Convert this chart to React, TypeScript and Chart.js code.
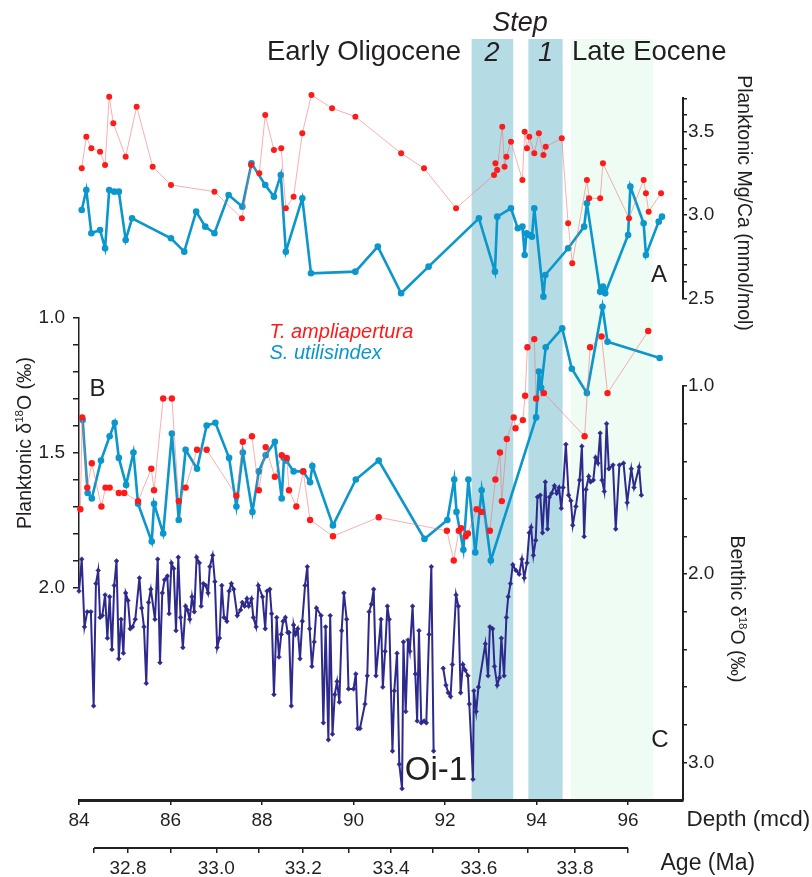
import React, { useEffect, useRef } from 'react';
import { Chart, registerables } from 'chart.js';

Chart.register(...registerables);

const FONT = "'Liberation Sans', Arial, Helvetica, sans-serif";
const INK = '#231f20';
const BLUE = '#0b96cc';
const RED = '#ff1a1a';
const PINK = 'rgba(244, 110, 110, 0.55)';
const NAVY = '#2e2a8c';
const STEP_FILL = '#b5dce5';
const EOCENE_FILL = '#eefcf3';

// ---------- Panel A : planktonic Mg/Ca (mmol/mol) ----------
const mgRedDepth = [84.06, 84.16, 84.27, 84.46, 84.57, 84.66, 84.75, 85.02, 85.26, 85.61, 86.01, 86.96, 87.56, 87.76, 87.94, 88.07, 88.26, 88.42, 88.52, 88.69, 88.88, 89.08, 89.53, 90.04, 91.04, 91.54, 92.24, 93.07, 93.10, 93.14, 93.25, 93.30, 93.34, 93.44, 93.69, 93.74, 93.79, 93.84, 93.95, 94.05, 94.15, 94.20, 94.55, 94.69, 94.78, 95.10, 95.15, 95.39, 95.45, 96.02, 96.34, 96.39, 96.45, 96.72];
const mgRed = [3.28, 3.47, 3.40, 3.38, 3.30, 3.71, 3.55, 3.35, 3.65, 3.29, 3.18, 3.14, 2.98, 3.30, 3.25, 3.60, 3.39, 3.40, 3.04, 3.11, 3.49, 3.72, 3.64, 3.59, 3.37, 3.28, 3.04, 3.24, 3.31, 3.27, 3.53, 3.29, 3.35, 3.44, 3.21, 3.50, 3.40, 3.47, 3.37, 3.49, 3.36, 3.41, 3.46, 2.95, 2.71, 3.21, 3.10, 3.10, 3.31, 2.98, 3.21, 3.13, 3.02, 3.13];

const mgBlueDepth = [84.06, 84.16, 84.27, 84.46, 84.57, 84.66, 84.77, 84.87, 85.02, 85.16, 86.01, 86.30, 86.56, 86.76, 86.96, 87.27, 87.57, 87.77, 88.07, 88.26, 88.41, 88.52, 88.88, 89.07, 90.04, 90.53, 91.04, 91.64, 92.74, 93.09, 93.14, 93.44, 93.59, 93.69, 93.74, 93.78, 93.84, 93.90, 93.95, 94.15, 94.19, 94.69, 95.04, 95.10, 95.39, 95.45, 95.50, 96.00, 96.05, 96.34, 96.39, 96.67, 96.74];
const mgBlue = [3.03, 3.15, 2.89, 2.91, 2.80, 3.15, 3.14, 3.14, 2.85, 2.98, 2.86, 2.78, 3.02, 2.93, 2.89, 3.12, 3.05, 3.31, 3.18, 3.11, 3.24, 2.78, 3.10, 2.65, 2.66, 2.81, 2.53, 2.69, 2.98, 2.66, 2.99, 3.04, 2.92, 2.93, 2.76, 2.89, 2.88, 2.87, 3.04, 2.51, 2.64, 2.80, 2.93, 3.07, 2.54, 2.57, 2.53, 2.88, 3.17, 2.95, 2.76, 2.96, 2.99];

// ---------- Panel B : planktonic d18O (permil) ----------
const plRedDepth = [84.03, 84.07, 84.18, 84.28, 84.49, 84.58, 84.67, 84.87, 84.99, 85.29, 85.58, 85.64, 85.84, 86.03, 86.18, 86.33, 86.58, 86.79, 87.44, 87.58, 87.78, 87.93, 88.08, 88.28, 88.43, 88.54, 88.59, 88.75, 88.90, 89.05, 89.55, 90.55, 92.04, 92.19, 92.30, 92.35, 92.45, 92.50, 92.69, 92.80, 92.98, 93.10, 93.20, 93.24, 93.35, 93.50, 93.54, 93.70, 93.75, 93.80, 93.95, 93.99, 94.16, 95.05, 95.17, 95.42, 95.55, 96.44];
const plRed = [1.71, 1.37, 1.63, 1.54, 1.70, 1.63, 1.63, 1.65, 1.65, 1.68, 1.56, 1.64, 1.30, 1.30, 1.68, 1.63, 1.49, 1.49, 1.66, 1.46, 1.44, 1.64, 1.48, 1.59, 1.51, 1.52, 1.64, 1.70, 1.57, 1.75, 1.81, 1.74, 1.79, 1.90, 1.79, 1.78, 1.81, 1.80, 1.71, 1.72, 1.79, 1.60, 1.50, 1.68, 1.45, 1.37, 1.41, 1.38, 1.29, 1.11, 1.08, 1.30, 1.28, 1.44, 1.11, 1.07, 1.28, 1.05];

const plBlueDepth = [84.08, 84.19, 84.28, 84.48, 84.67, 84.78, 84.87, 85.03, 85.19, 85.29, 85.59, 85.64, 85.84, 86.03, 86.18, 86.33, 86.58, 86.79, 86.98, 87.28, 87.44, 87.58, 87.79, 87.93, 88.08, 88.28, 88.43, 88.48, 88.53, 88.69, 88.90, 89.05, 89.10, 89.55, 90.05, 90.55, 91.55, 92.05, 92.20, 92.25, 92.40, 92.51, 92.66, 92.80, 93.00, 93.99, 94.05, 94.10, 94.20, 94.56, 94.77, 95.10, 95.44, 95.55, 96.69];
const plBlue = [1.38, 1.65, 1.67, 1.53, 1.44, 1.39, 1.52, 1.62, 1.50, 1.69, 1.83, 1.69, 1.80, 1.43, 1.75, 1.49, 1.56, 1.40, 1.39, 1.52, 1.70, 1.50, 1.72, 1.57, 1.51, 1.46, 1.67, 1.52, 1.53, 1.57, 1.57, 1.61, 1.55, 1.77, 1.60, 1.53, 1.82, 1.75, 1.60, 1.72, 1.86, 1.60, 1.87, 1.64, 1.90, 1.37, 1.20, 1.26, 1.11, 1.04, 1.19, 1.28, 0.96, 1.09, 1.15];

// ---------- Panel C : benthic d18O (permil) ----------
const benthicDepth = [
  84.00, 84.06, 84.12, 84.18, 84.26, 84.32, 84.37, 84.42, 84.46, 84.51,
  84.57, 84.62, 84.67, 84.72, 84.77, 84.82, 84.87, 84.92, 84.97, 85.02,
  85.07, 85.12, 85.17, 85.23, 85.32, 85.37, 85.42, 85.47, 85.52, 85.57,
  85.66, 85.72, 85.77, 85.82, 85.87, 85.93, 85.97, 86.02, 86.07, 86.12,
  86.17, 86.22, 86.27, 86.33, 86.37, 86.42, 86.47, 86.52, 86.57, 86.63,
  86.67, 86.72, 86.77, 86.82, 86.86, 86.92, 86.97, 87.02, 87.07, 87.12,
  87.17, 87.23, 87.28, 87.33, 87.38, 87.46, 87.53, 87.57, 87.62, 87.67,
  87.71, 87.77, 87.81, 87.87, 87.92, 88.01, 88.07, 88.11, 88.17, 88.21,
  88.26, 88.32, 88.37, 88.42, 88.46, 88.51, 88.56, 88.59, 88.64, 88.69,
  88.73, 88.78, 88.83, 88.88, 88.94, 88.99, 89.04, 89.09, 89.14, 89.19,
  89.29, 89.34, 89.39, 89.45, 89.49, 89.54, 89.59, 89.64, 89.69, 89.74,
  89.79, 89.85, 89.89, 90.00, 90.05, 90.09, 90.14, 90.25, 90.30, 90.34,
  90.39, 90.44, 90.49, 90.60, 90.64, 90.69, 90.74, 90.78, 90.85,
  90.89, 90.95, 91.00, 91.06, 91.09, 91.14, 91.19, 91.23, 91.29, 91.35,
  91.39, 91.43, 91.48, 91.54, 91.59, 91.65, 91.70, 91.75, 91.85,
  91.96, 92.02, 92.07, 92.12, 92.16, 92.24, 92.29, 92.34, 92.39, 92.44,
  92.50, 92.53, 92.61, 92.63, 92.68, 92.73, 92.88, 92.94, 92.98, 93.04,
  93.08, 93.14, 93.19, 93.23, 93.29, 93.34, 93.38, 93.43, 93.48, 93.55,
  93.62, 93.68, 93.73, 93.79, 93.84, 93.88, 93.93, 93.98, 94.02, 94.08,
  94.13, 94.19, 94.24, 94.28, 94.33, 94.39, 94.44, 94.49, 94.54, 94.58,
  94.64, 94.70, 94.75, 94.79, 94.86, 94.94, 94.99, 95.04, 95.08, 95.14,
  95.18, 95.24, 95.29, 95.34, 95.39, 95.43, 95.48, 95.53, 95.58, 95.67,
  95.73, 95.81, 95.90, 95.98, 96.07, 96.13, 96.24, 96.29,
];
const benthic = [
  2.09, 1.92, 2.28, 2.20, 2.20, 2.70, 2.05, 1.98, 2.23, 2.22,
  2.11, 2.34, 2.12, 2.40, 2.06, 1.93, 2.45, 2.24, 2.42, 2.10,
  2.14, 2.29, 2.28, 2.24, 2.02, 2.18, 2.28, 2.58, 2.15, 2.08,
  2.24, 1.92, 2.47, 2.10, 2.03, 2.01, 2.21, 1.94, 1.97, 2.30,
  1.91, 2.23, 2.39, 2.17, 2.19, 2.24, 2.12, 2.20, 1.91, 1.94,
  2.17, 2.05, 2.06, 2.10, 1.96, 1.90, 2.04, 2.39, 2.34, 2.06,
  2.23, 2.25, 2.09, 2.05, 2.08, 2.22, 2.19, 2.15, 2.17, 2.13,
  2.17, 2.13, 2.23, 2.28, 2.06, 2.12, 2.29, 2.09, 2.08, 2.21,
  2.64, 2.23, 2.44, 2.32, 2.25, 2.23, 2.31, 2.31, 2.70, 2.27,
  2.32, 2.29, 2.45, 2.25, 2.06, 1.96, 2.29, 2.49, 2.36, 2.18,
  2.22, 2.79, 2.28, 2.88, 2.22, 2.85, 2.64, 2.57, 2.68, 2.30,
  2.10, 2.24, 2.61, 2.61, 2.53, 2.82, 2.82, 2.69, 2.54, 2.20,
  2.16, 2.08, 2.54, 2.24, 2.60, 2.41, 2.17, 2.24, 2.94,
  2.62, 2.42, 3.01, 3.14, 2.36, 2.73, 2.35, 2.41, 2.17, 2.53,
  2.78, 2.30, 2.79, 2.78, 2.79, 2.32, 1.96, 2.94, null,
  2.50, 2.59, 2.63, 2.65, 2.48, 2.11, 2.17, 2.63, 2.48, 2.51,
  2.54, 2.69, 3.09, 2.62, 2.73, 2.60, 2.37, 2.54, 2.28, 2.29,
  2.49, 2.59, 2.55, 2.34, 2.54, 2.23, 2.12, 2.05, 1.95, 1.98,
  2.00, 1.92, 2.02, 1.94, 1.78, 1.75, 1.90, 1.82, 1.59, 1.58,
  1.78, 1.51, 1.76, 1.59, 1.57, 1.53, 1.57, 1.54, 1.65, 1.54,
  1.31, 1.58, 1.61, 1.74, 1.64, 1.50, 1.32, 1.80, 1.55, 1.48,
  1.51, 1.50, 1.38, 1.41, 1.25, 1.50, 1.56, 1.20, 1.44, 1.42,
  1.76, 1.42, 1.41, 1.62, 1.44, 1.54, 1.43, 1.58,
];

// ---------- shaded intervals (depth, mcd) ----------
const stepIntervals = [
  [92.58, 93.49],
  [93.82, 94.57],
];
const lateEoceneInterval = [94.75, 96.55];

// ---------- ticks ----------
const depthTicks = [84, 86, 88, 90, 92, 94, 96];
const ageTicks = [32.7, 32.8, 32.9, 33.0, 33.1, 33.2, 33.3, 33.4, 33.5, 33.6, 33.7, 33.8, 33.9];
const ageTickDepth = [84.33, 85.07, 86.01, 87.0, 87.92, 88.9, 89.9, 90.82, 91.74, 92.74, 93.81, 94.84, 96.0];
const ageLabels = ['', '32.8', '', '33.0', '', '33.2', '', '33.4', '', '33.6', '', '33.8', ''];
const mgTicks = [2.5, 2.6, 2.7, 2.8, 2.9, 3.0, 3.1, 3.2, 3.3, 3.4, 3.5, 3.6, 3.7];
const mgLabels = ['2.5', '', '', '', '', '3.0', '', '', '', '', '3.5', '', ''];
const plTicks = [1.0, 1.1, 1.2, 1.3, 1.4, 1.5, 1.6, 1.7, 1.8, 1.9, 2.0];
const plLabels = ['1.0', '', '', '', '', '1.5', '', '', '', '', '2.0'];
const bnTicks = [1.0, 1.2, 1.4, 1.6, 1.8, 2.0, 2.2, 2.4, 2.6, 2.8, 3.0];
const bnLabels = ['1.0', '', '', '', '', '2.0', '', '', '', '', '3.0'];

// layout sizes (px)
const LEFT_W = 79;
const RIGHT_W = 129;
const DEPTH_H = 48;
const AGE_H = 29;
const TOP_PAD = 39;

const mk = (xs: number[], ys: (number | null)[]) => xs.map((x, i) => ({ x, y: ys[i] }));
const setTicks = (vals: number[]) => (s: any) => {
  s.ticks = vals.map((v) => ({ value: v }));
};
const tickFont = { family: FONT, size: 19 };

function dummyAxis(pos: 'left' | 'right', weight: number, stackWeight: number) {
  return {
    type: 'linear',
    position: pos,
    stack: pos,
    weight,
    stackWeight,
    min: 0,
    max: 1,
    ticks: { display: false },
    grid: { display: false },
    border: { display: false },
    afterFit: (s: any) => {
      s.width = pos === 'left' ? LEFT_W : RIGHT_W;
    },
  };
}

function valueAxis(pos: 'left' | 'right', weight: number, stackWeight: number, min: number, max: number, reverse: boolean, ticks: number[], labels: string[]) {
  const left = pos === 'left';
  return {
    type: 'linear',
    position: pos,
    stack: pos,
    weight,
    stackWeight,
    min,
    max,
    reverse,
    afterBuildTicks: setTicks(ticks),
    ticks: {
      autoSkip: false,
      callback: (_v: any, i: number) => labels[i],
      font: tickFont,
      color: INK,
      padding: left ? 8 : 1,
    },
    grid: { drawOnChartArea: false, drawTicks: true, tickLength: left ? 6 : 4, color: INK, lineWidth: 1.5 },
    border: { display: true, color: INK, width: left ? 1.5 : 2 },
    afterFit: (s: any) => {
      s.width = left ? LEFT_W : RIGHT_W;
    },
  };
}

function drawText(ctx: CanvasRenderingContext2D, s: string, x: number, y: number, font: string, color: string, align: CanvasTextAlign) {
  ctx.font = font;
  ctx.fillStyle = color;
  ctx.textAlign = align;
  ctx.textBaseline = 'middle';
  ctx.fillText(s, x, y);
}

type Part = { t: string; size: number; sup?: boolean };
function drawRich(ctx: CanvasRenderingContext2D, parts: Part[], cx: number, cy: number, rot: number) {
  ctx.save();
  ctx.translate(cx, cy);
  ctx.rotate(rot);
  ctx.fillStyle = INK;
  ctx.textAlign = 'left';
  ctx.textBaseline = 'alphabetic';
  let total = 0;
  parts.forEach((p) => {
    ctx.font = `${p.size}px ${FONT}`;
    total += ctx.measureText(p.t).width;
  });
  let x = -total / 2;
  const base = parts[0].size * 0.36;
  parts.forEach((p) => {
    ctx.font = `${p.size}px ${FONT}`;
    ctx.fillText(p.t, x, p.sup ? base - parts[0].size * 0.42 : base);
    x += ctx.measureText(p.t).width;
  });
  ctx.restore();
}

const decorPlugin = {
  id: 'decor',
  beforeDraw(chart: any) {
    const { ctx, chartArea } = chart;
    const x = chart.scales.x;
    ctx.save();
    const band = (a: number, b: number, c: string) => {
      const x0 = x.getPixelForValue(a);
      const x1 = x.getPixelForValue(b);
      ctx.fillStyle = c;
      ctx.fillRect(x0, chartArea.top, x1 - x0, chartArea.bottom - chartArea.top);
    };
    band(lateEoceneInterval[0], lateEoceneInterval[1], EOCENE_FILL);
    stepIntervals.forEach((iv) => band(iv[0], iv[1], STEP_FILL));
    ctx.restore();
  },
  afterDraw(chart: any) {
    const { ctx } = chart;
    const x2 = chart.scales.x2;
    ctx.save();
    // age axis baseline
    ctx.strokeStyle = INK;
    ctx.lineWidth = 2;
    ctx.beginPath();
    ctx.moveTo(x2.getPixelForValue(ageTickDepth[0]), x2.top);
    ctx.lineTo(x2.getPixelForValue(ageTickDepth[ageTickDepth.length - 1]), x2.top);
    ctx.stroke();

    drawText(ctx, 'Step', 520, 23, `italic 27px ${FONT}`, INK, 'center');
    drawText(ctx, '2', 492, 53, `italic 27px ${FONT}`, INK, 'center');
    drawText(ctx, '1', 545.5, 53, `italic 27px ${FONT}`, INK, 'center');
    drawText(ctx, 'Early Oligocene', 461, 52, `27.5px ${FONT}`, INK, 'right');
    drawText(ctx, 'Late Eocene', 572, 52, `27.5px ${FONT}`, INK, 'left');
    drawText(ctx, 'A', 659, 275.5, `24px ${FONT}`, INK, 'center');
    drawText(ctx, 'B', 97.5, 389, `24px ${FONT}`, INK, 'center');
    drawText(ctx, 'C', 660, 740, `24px ${FONT}`, INK, 'center');
    drawText(ctx, 'Oi-1', 436, 771, `33px ${FONT}`, INK, 'center');
    drawText(ctx, 'T. ampliapertura', 269.5, 332, `italic 20px ${FONT}`, RED, 'left');
    drawText(ctx, 'S. utilisindex', 269.5, 353.5, `italic 20px ${FONT}`, BLUE, 'left');
    drawText(ctx, 'Depth (mcd)', 686.5, 820, `22.5px ${FONT}`, INK, 'left');
    drawText(ctx, 'Age (Ma)', 660.5, 864, `23px ${FONT}`, INK, 'left');

    drawRich(ctx, [{ t: 'Planktonic δ', size: 19.5 }, { t: '18', size: 11.5, sup: true }, { t: 'O (‰)', size: 19.5 }], 24, 443, -Math.PI / 2);
    drawRich(ctx, [{ t: 'Planktonic Mg/Ca (mmol/mol)', size: 19.5 }], 745.5, 203, Math.PI / 2);
    drawRich(ctx, [{ t: 'Benthic δ', size: 19.5 }, { t: '18', size: 11.5, sup: true }, { t: 'O (‰)', size: 19.5 }], 738, 609, Math.PI / 2);
    ctx.restore();
  },
};

export default function App() {
  const ref = useRef<HTMLCanvasElement>(null);

  useEffect(() => {
    if (!ref.current) return;
    const redStyle = {
      showLine: true,
      borderColor: PINK,
      borderWidth: 1,
      pointRadius: 3,
      pointBackgroundColor: RED,
      pointBorderColor: RED,
      pointBorderWidth: 0,
      clip: false,
    };
    const blueStyle = {
      showLine: true,
      borderColor: BLUE,
      borderWidth: 2.6,
      pointRadius: 3.3,
      pointBackgroundColor: BLUE,
      pointBorderColor: BLUE,
      pointBorderWidth: 0,
      clip: false,
    };
    const chart = new Chart(ref.current, {
      type: 'scatter',
      data: {
        datasets: [
          { label: 'T. ampliapertura Mg/Ca', data: mk(mgRedDepth, mgRed), yAxisID: 'yM', ...redStyle },
          { label: 'T. ampliapertura d18O', data: mk(plRedDepth, plRed), yAxisID: 'yP', ...redStyle, pointRadius: 3.2 },
          { label: 'S. utilisindex Mg/Ca', data: mk(mgBlueDepth, mgBlue), yAxisID: 'yM', ...blueStyle },
          { label: 'S. utilisindex d18O', data: mk(plBlueDepth, plBlue), yAxisID: 'yP', ...blueStyle },
          {
            label: 'Benthic d18O',
            data: mk(benthicDepth, benthic),
            yAxisID: 'yB',
            showLine: true,
            spanGaps: false,
            borderColor: NAVY,
            borderWidth: 2,
            pointStyle: 'rectRot',
            pointRadius: 2.4,
            pointBackgroundColor: NAVY,
            pointBorderColor: NAVY,
            pointBorderWidth: 0.5,
            clip: false,
          },
        ] as any,
      },
      options: {
        responsive: false,
        devicePixelRatio: 1,
        animation: false,
        layout: { padding: { top: TOP_PAD, left: 0, right: 0, bottom: 0 } },
        plugins: { legend: { display: false }, tooltip: { enabled: false } },
        scales: {
          x: {
            type: 'linear',
            position: 'bottom',
            weight: 1,
            min: 84,
            max: 97.2,
            afterBuildTicks: setTicks(depthTicks),
            ticks: { autoSkip: false, font: tickFont, color: INK, padding: 4, callback: (v: any) => String(v) },
            grid: { drawOnChartArea: false, drawTicks: true, tickLength: 5, color: INK, lineWidth: 1.5 },
            border: { display: true, color: INK, width: 3 },
            afterFit: (s: any) => {
              s.height = DEPTH_H;
            },
          },
          x2: {
            type: 'linear',
            position: 'bottom',
            weight: 2,
            min: 84,
            max: 97.2,
            afterBuildTicks: setTicks(ageTickDepth),
            ticks: { autoSkip: false, font: tickFont, color: INK, padding: 4, callback: (_v: any, i: number) => ageLabels[i] },
            grid: { drawOnChartArea: false, drawTicks: true, tickLength: 5, color: INK, lineWidth: 1.5 },
            border: { display: false },
            afterFit: (s: any) => {
              s.height = AGE_H;
            },
          },
          yTL: dummyAxis('left', 3, 278.5),
          yP: valueAxis('left', 2, 270, 1.0, 2.0, true, plTicks, plLabels),
          yBL: dummyAxis('left', 1, 212.5),
          yTR: dummyAxis('right', 1, 59.3),
          yM: valueAxis('right', 2, 200, 2.5, 3.7, false, mgTicks, mgLabels),
          yG: dummyAxis('right', 3, 87.7),
          yB: valueAxis('right', 4, 414, 1.0, 3.2, true, bnTicks, bnLabels),
        } as any,
      },
      plugins: [decorPlugin],
    });
    return () => chart.destroy();
  }, []);

  return (
    <div style={{ position: 'absolute', left: 0, top: 0, width: 812, height: 877, background: '#ffffff' }}>
      <canvas ref={ref} width={812} height={877} style={{ display: 'block', width: 812, height: 877 }} />
    </div>
  );
}
